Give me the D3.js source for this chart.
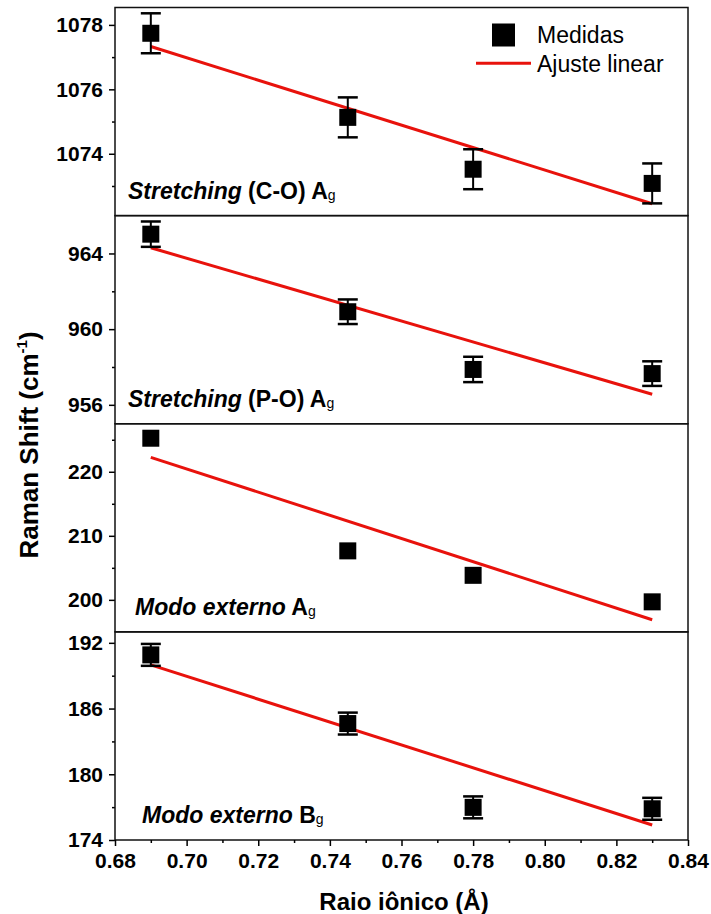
<head>
    <script src="https://d3js.org/d3.v7.min.js"></script>
    <style>
        body { margin: 0; background: white; }
        text { font-family: "Liberation Sans", Arial, sans-serif; }
        .ticklbl text { font-size: 21px; font-weight: bold; fill: black; }
    </style>
</head>

<body>
        <svg id="plot" height="914" width="711"></svg>
        <script>
            //data
            const raio = [0.69, 0.745, 0.78, 0.83];

            const coShift = [1077.74, 1075.13, 1073.52, 1073.08];
            const coErr = [0.62, 0.62, 0.62, 0.62];
            const coFit = [1077.33, 1072.45];

            const poShift = [965.02, 960.92, 957.87, 957.65];
            const poErr = [0.67, 0.65, 0.67, 0.65];
            const poFit = [964.30, 956.56];

            const agShift = [225.24, 207.65, 203.83, 199.69];
            const agErr = [0, 0, 0, 0];
            const agFit = [222.26, 196.9];

            const bgShift = [190.9, 184.63, 176.98, 176.85];
            const bgErr = [1.0, 1.0, 1.0, 1.0];
            const bgFit = [189.99, 175.37];

            const xMajor = [0.68, 0.70, 0.72, 0.74, 0.76, 0.78, 0.80, 0.82, 0.84];
            const xMinor = [0.69, 0.71, 0.73, 0.75, 0.77, 0.79, 0.81, 0.83];

            const panels = [
                {shift: coShift, err: coErr, fit: coFit, domain: [1072.08, 1078.54], major: [1074, 1076, 1078], minor: [1073, 1075, 1077], label: ["Stretching", " (C-O) A"], lx: 128},
                {shift: poShift, err: poErr, fit: poFit, domain: [955, 966], major: [956, 960, 964], minor: [958, 962], label: ["Stretching", " (P-O) A"], lx: 128},
                {shift: agShift, err: agErr, fit: agFit, domain: [195, 227.5], major: [200, 210, 220], minor: [205, 215, 225], label: ["Modo externo", " A"], lx: 135},
                {shift: bgShift, err: bgErr, fit: bgFit, domain: [174, 193], major: [174, 180, 186, 192], minor: [177, 183, 189], label: ["Modo externo", " B"], lx: 142}
            ];

            //chart setup
            const svg = d3.select("svg#plot");
            const plotLeft = 115, plotRight = 688, plotTop = 7.5, plotBottom = 840;
            const panelH = (plotBottom - plotTop) / panels.length;

            const x = d3.scaleLinear().domain([0.68, 0.84]).range([plotLeft, plotRight]);

            panels.forEach((p, i) => {
                const y0 = plotTop + i * panelH;
                const y = d3.scaleLinear().domain(p.domain).range([y0 + panelH, y0]);
                const g = svg.append("g");

                //y ticks
                g.append("g").attr("class", "ticklbl")
                    .attr("transform", `translate(${plotLeft},0)`)
                    .call(d3.axisLeft(y).tickValues(p.major).tickSize(6).tickPadding(6).tickFormat(d3.format("d")))
                    .call(a => a.select(".domain").remove())
                    .call(a => a.selectAll("line").attr("stroke-width", 1.5));
                g.append("g")
                    .attr("transform", `translate(${plotLeft},0)`)
                    .call(d3.axisLeft(y).tickValues(p.minor).tickSize(3).tickFormat(""))
                    .call(a => a.select(".domain").remove())
                    .call(a => a.selectAll("line").attr("stroke-width", 1.5));

                //fit line
                g.append("line")
                    .attr("x1", x(raio[0])).attr("y1", y(p.fit[0]))
                    .attr("x2", x(raio[raio.length - 1])).attr("y2", y(p.fit[1]))
                    .attr("stroke", "#e8120c")
                    .attr("stroke-width", 3);

                //error bars
                raio.forEach((r, j) => {
                    if (!p.err[j]) return;
                    const cx = x(r), hi = y(p.shift[j] + p.err[j]), lo = y(p.shift[j] - p.err[j]);
                    g.append("line").attr("x1", cx).attr("x2", cx).attr("y1", hi).attr("y2", lo)
                        .attr("stroke", "black").attr("stroke-width", 2);
                    [hi, lo].forEach(yy => {
                        g.append("line").attr("x1", cx - 10).attr("x2", cx + 10).attr("y1", yy).attr("y2", yy)
                            .attr("stroke", "black").attr("stroke-width", 2.5);
                    });
                });

                //markers
                g.selectAll("rect.pt")
                    .data(p.shift)
                    .enter()
                    .append("rect")
                    .attr("class", "pt")
                    .attr("x", (d, j) => x(raio[j]) - 8.5)
                    .attr("y", d => y(d) - 8.5)
                    .attr("width", 17)
                    .attr("height", 17)
                    .attr("fill", "black");

                //panel frame
                g.append("rect")
                    .attr("x", plotLeft).attr("y", y0)
                    .attr("width", plotRight - plotLeft).attr("height", panelH)
                    .attr("fill", "none")
                    .attr("stroke", "#111")
                    .attr("stroke-width", 1.5);

                //panel label
                const lbl = g.append("text")
                    .attr("x", p.lx)
                    .attr("y", y0 + panelH - 17)
                    .attr("font-size", 23)
                    .attr("font-weight", "bold");
                lbl.append("tspan").attr("font-style", "italic").text(p.label[0]);
                lbl.append("tspan").text(p.label[1]);
                lbl.append("tspan").attr("font-size", 14).attr("font-weight", "normal").attr("dy", 1).text("g");
            });

            //x axis
            svg.append("g").attr("class", "ticklbl")
                .attr("transform", `translate(0,${plotBottom})`)
                .call(d3.axisBottom(x).tickValues(xMajor).tickSize(6).tickPadding(7).tickFormat(d3.format(".2f")))
                .call(a => a.select(".domain").remove())
                .call(a => a.selectAll("line").attr("stroke-width", 1.5));
            svg.append("g")
                .attr("transform", `translate(0,${plotBottom})`)
                .call(d3.axisBottom(x).tickValues(xMinor).tickSize(3).tickFormat(""))
                .call(a => a.select(".domain").remove())
                .call(a => a.selectAll("line").attr("stroke-width", 1.5));

            //axis titles
            svg.append("text")
                .attr("x", 404).attr("y", 910)
                .attr("text-anchor", "middle")
                .attr("font-size", 24).attr("font-weight", "bold")
                .text("Raio iônico (Å)");

            const yTitle = svg.append("text")
                .attr("transform", "translate(38,445) rotate(-90)")
                .attr("text-anchor", "middle")
                .attr("font-size", 26).attr("font-weight", "bold");
            yTitle.append("tspan").text("Raman Shift (cm");
            yTitle.append("tspan").attr("font-size", 15).attr("dy", -11).text("-1");
            yTitle.append("tspan").attr("dy", 11).text(")");

            //legend
            const legend = svg.append("g");
            legend.append("rect").attr("x", 492).attr("y", 23.5).attr("width", 23).attr("height", 23).attr("fill", "black");
            legend.append("text").attr("x", 537).attr("y", 43).attr("font-size", 23).text("Medidas");
            legend.append("line").attr("x1", 476).attr("x2", 531).attr("y1", 63.3).attr("y2", 63.3)
                .attr("stroke", "#e8120c").attr("stroke-width", 3);
            legend.append("text").attr("x", 537).attr("y", 71.5).attr("font-size", 23).text("Ajuste linear");
        </script>
</body>
